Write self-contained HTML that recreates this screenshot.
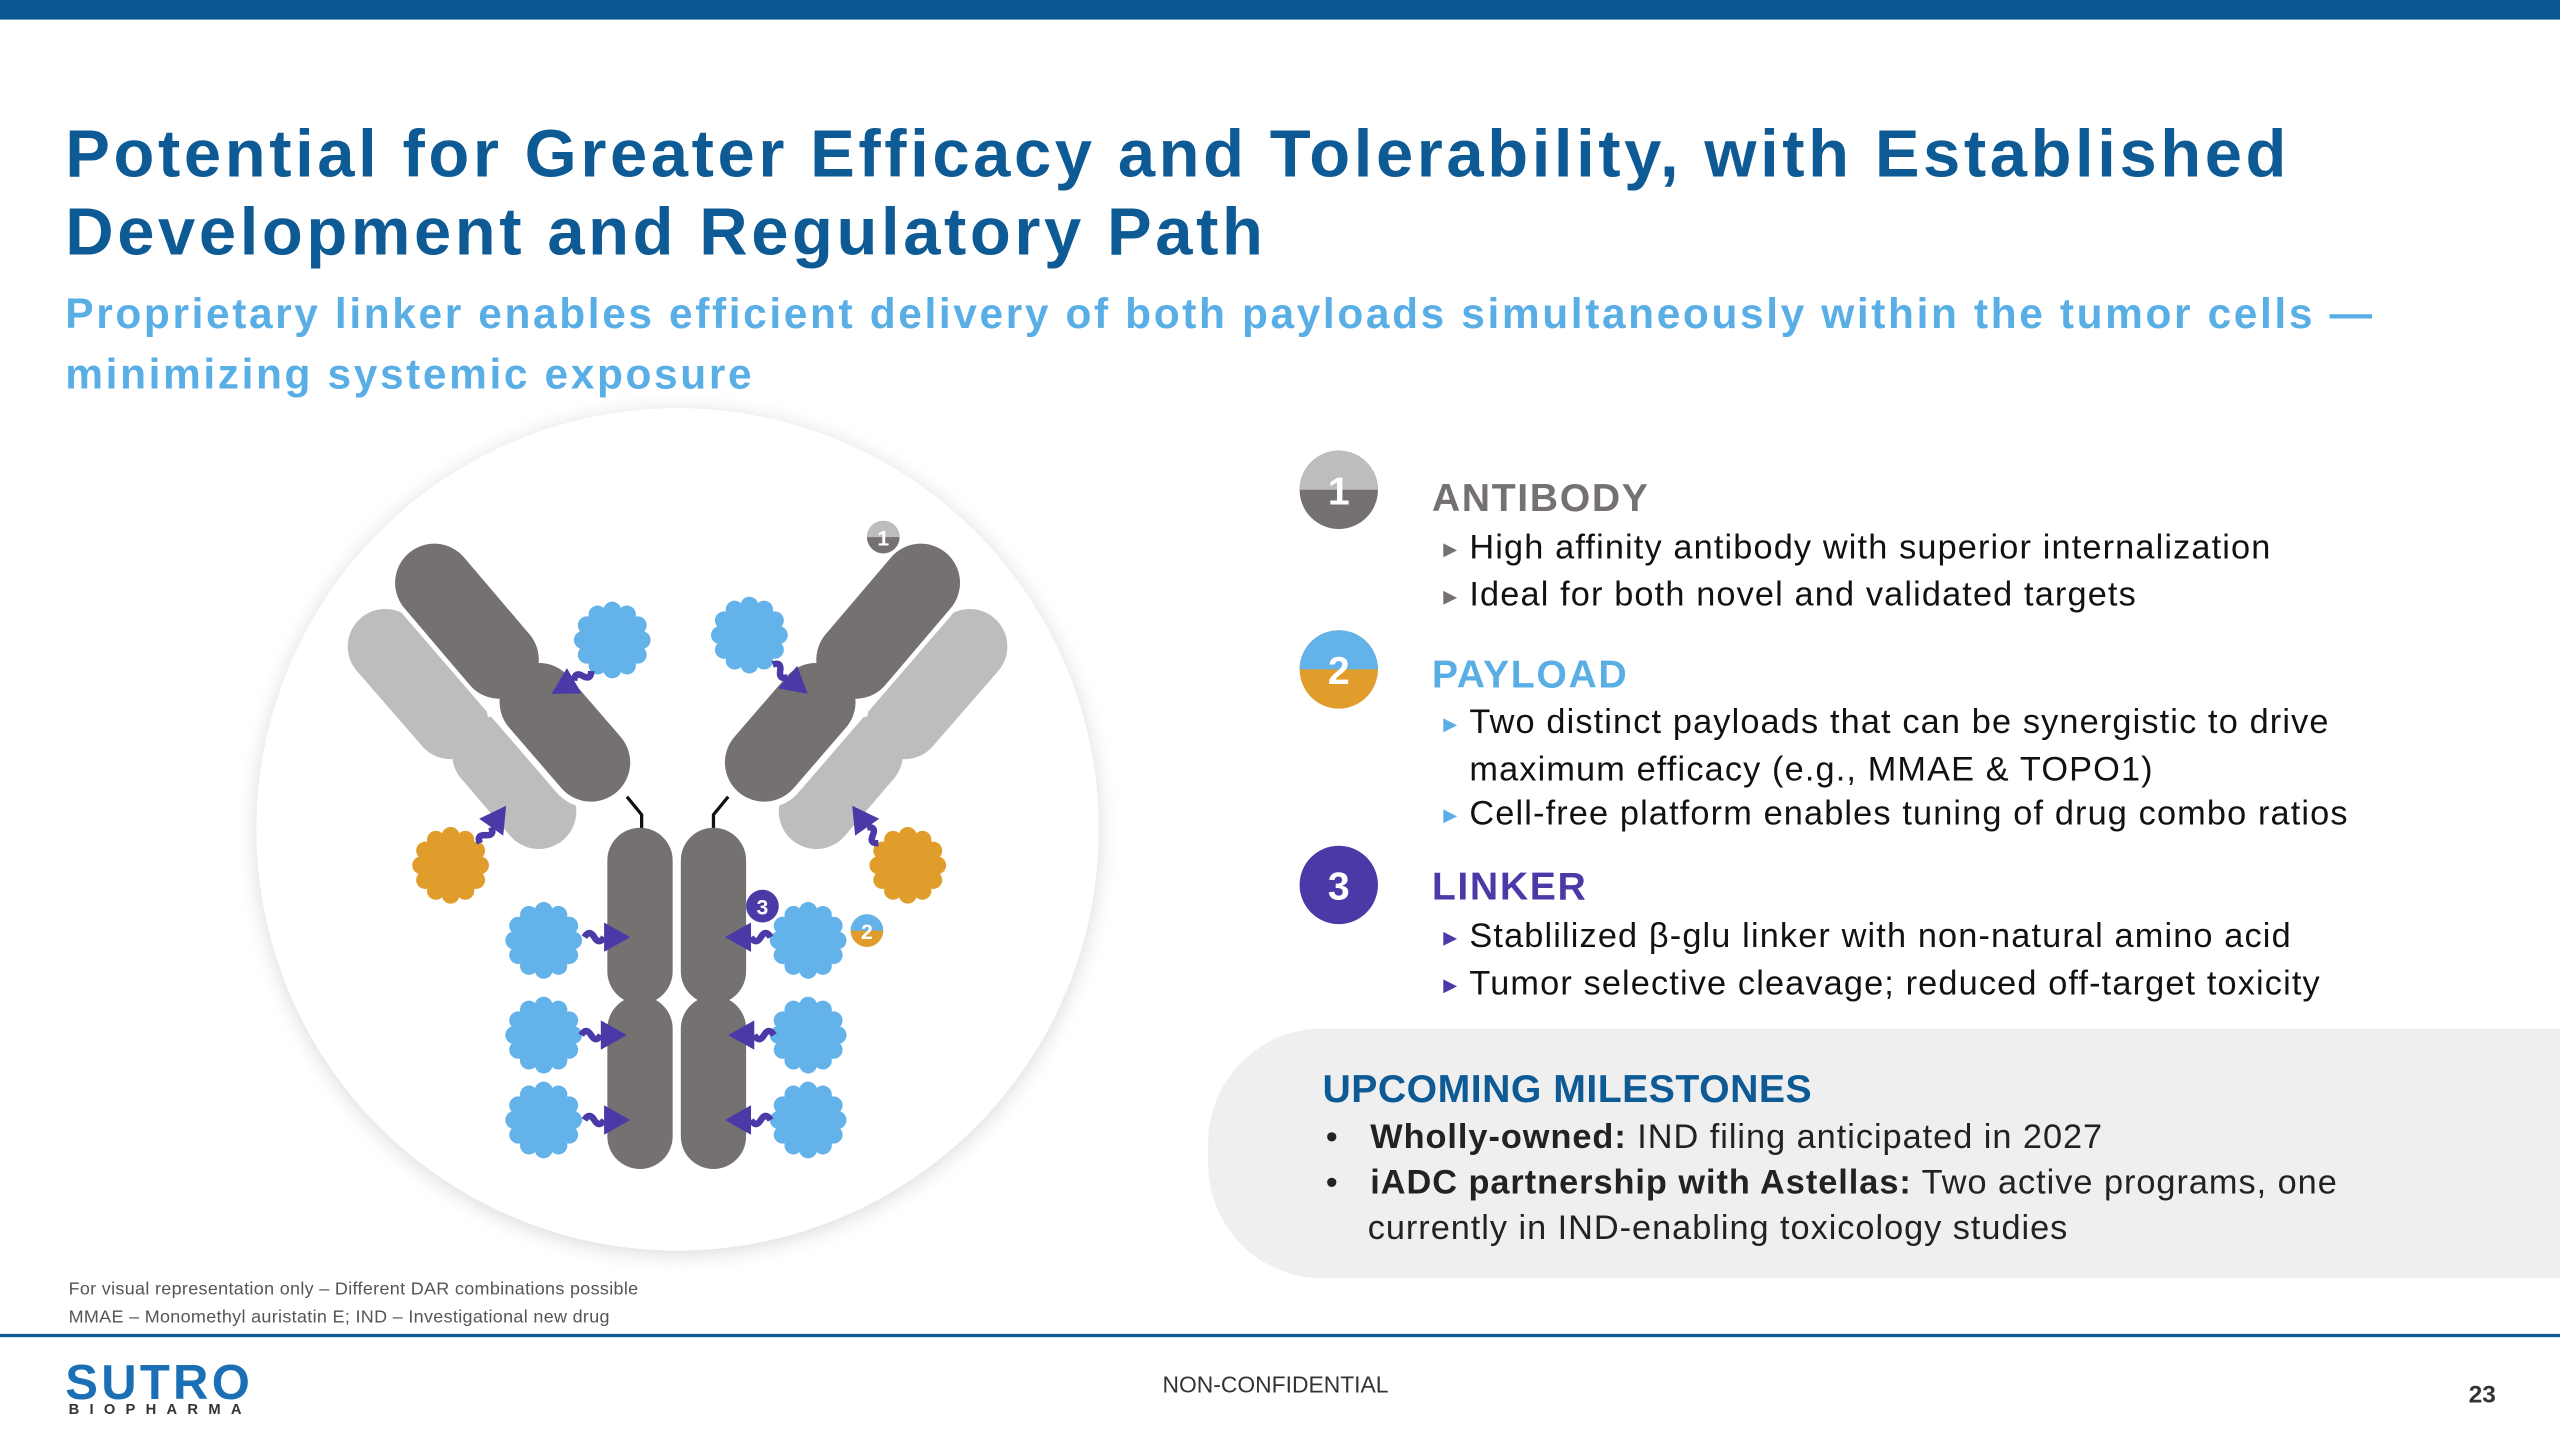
<!DOCTYPE html>
<html><head><meta charset="utf-8"><style>
html,body{margin:0;padding:0;background:#fff;}
#w{width:1568px;height:882px;position:relative;transform:scale(1.632653);transform-origin:0 0;font-family:"Liberation Sans",Arial,sans-serif;overflow:hidden;}
.a{position:absolute;white-space:nowrap;}
.t{color:#0d5a95;font-weight:bold;font-size:41px;line-height:48px;left:40px;top:70px;letter-spacing:2.2px;}
.s{color:#5aaee6;font-weight:bold;font-size:26px;line-height:37px;left:40px;top:174px;letter-spacing:1.6px;}
.h{font-size:24px;letter-spacing:1px;font-weight:bold;}
.b{font-size:21px;color:#111;line-height:27px;letter-spacing:0.7px;}
.b span{font-size:11px;display:inline-block;width:16px;vertical-align:2px;}
</style></head><body><div id="w">
<div style="position:absolute;left:0;top:0;width:1568px;height:12px;background:#0a5690"></div>
<div class="a t">Potential for Greater Efficacy and Tolerability, with Established<br>Development and Regulatory Path</div>
<div class="a s">Proprietary linker enables efficient delivery of both payloads simultaneously within the tumor cells —<br>minimizing systemic exposure</div>

<svg style="position:absolute;left:0;top:0" width="1568" height="882" viewBox="0 0 1568 882">
<defs>
<radialGradient id="sh" cx="0.5" cy="0.5" r="0.5"><stop offset="0.93" stop-color="#ddd"/><stop offset="1" stop-color="#fff" stop-opacity="0"/></radialGradient>
<g id="bl"><circle r="17"/><circle cx="0" cy="-18" r="5.5"/><circle cx="9" cy="-15.6" r="5.5"/><circle cx="15.6" cy="-9" r="5.5"/><circle cx="18" cy="0" r="5.5"/><circle cx="15.6" cy="9" r="5.5"/><circle cx="9" cy="15.6" r="5.5"/><circle cx="0" cy="18" r="5.5"/><circle cx="-9" cy="15.6" r="5.5"/><circle cx="-15.6" cy="9" r="5.5"/><circle cx="-18" cy="0" r="5.5"/><circle cx="-15.6" cy="-9" r="5.5"/><circle cx="-9" cy="-15.6" r="5.5"/></g>
<g id="ar"><path d="M-14,0 q3,-5 6,0 t6,0" stroke="#4a3aa8" stroke-width="4" fill="none"/><polygon points="-2,-9 14,0 -2,9" fill="#4a3aa8"/></g>
</defs>
<path d="M740,700 a70,70 0 0 1 70,-70 H1568 V783 H810 a70,70 0 0 1 -70,-70Z" fill="#efefef"/>
<circle cx="415" cy="510" r="272" fill="url(#sh)"/>
<circle cx="415" cy="508" r="258" fill="#fff"/>
<g stroke-linecap="round" fill="none" stroke="#bdbdbd" stroke-width="46">
<line x1="236" y1="396" x2="276" y2="442"/><line x1="300" y1="462" x2="330" y2="497"/>
<line x1="594" y1="396" x2="554" y2="442"/><line x1="530" y1="462" x2="500" y2="497"/>
</g>
<g stroke-linecap="round" fill="none">
<line x1="268" y1="358" x2="362" y2="467" stroke="#fff" stroke-width="56"/>
<line x1="562" y1="358" x2="468" y2="467" stroke="#fff" stroke-width="56"/>
</g>
<g stroke-linecap="round" fill="none" stroke="#757171" stroke-width="48">
<line x1="266" y1="357" x2="306" y2="404"/><line x1="330" y1="430" x2="362" y2="467"/>
<line x1="564" y1="357" x2="524" y2="404"/><line x1="500" y1="430" x2="468" y2="467"/>
</g>
<path d="M384,488 L393,499 V508 M446,488 L437,499 V508" stroke="#111" stroke-width="2" fill="none"/>
<g fill="#757171">
<rect x="372" y="507" width="40" height="108" rx="20"/><rect x="372" y="610" width="40" height="106" rx="20"/>
<rect x="417" y="507" width="40" height="108" rx="20"/><rect x="417" y="610" width="40" height="106" rx="20"/>
</g>
<g fill="#64b2ea"><use href="#bl" x="375" y="392"/><use href="#bl" x="459" y="389"/><use href="#bl" x="333" y="576"/><use href="#bl" x="333" y="634"/><use href="#bl" x="333" y="686"/><use href="#bl" x="495" y="576"/><use href="#bl" x="495" y="634"/><use href="#bl" x="495" y="686"/></g>
<g fill="#e19d2b"><use href="#bl" x="276" y="530"/><use href="#bl" x="556" y="530"/></g>
<use href="#ar" transform="translate(372,574)"/><use href="#ar" transform="translate(370,634)"/><use href="#ar" transform="translate(372,686)"/>
<use href="#ar" transform="translate(458,574) scale(-1,1)"/><use href="#ar" transform="translate(460,634) scale(-1,1)"/><use href="#ar" transform="translate(458,686) scale(-1,1)"/>
<use href="#ar" transform="translate(350,418) rotate(150)"/><use href="#ar" transform="translate(484,416) rotate(40)"/>
<use href="#ar" transform="translate(302,505) rotate(-55)"/><use href="#ar" transform="translate(530,505) rotate(-125)"/>
<circle cx="541" cy="329" r="10" fill="#757171"/><path d="M531,329 a10,10 0 0 1 20,0Z" fill="#bdbdbd"/><text x="541" y="334" font-size="13" font-weight="bold" fill="#fff" text-anchor="middle" font-family="Liberation Sans">1</text>
<circle cx="467" cy="555" r="10" fill="#4a3aa8"/><text x="467" y="560" font-size="13" font-weight="bold" fill="#fff" text-anchor="middle" font-family="Liberation Sans">3</text>
<circle cx="531" cy="570" r="10" fill="#e19d2b"/><path d="M521,570 a10,10 0 0 1 20,0Z" fill="#64b2ea"/><text x="531" y="575" font-size="13" font-weight="bold" fill="#fff" text-anchor="middle" font-family="Liberation Sans">2</text>
<circle cx="820" cy="300" r="24" fill="#757171"/><path d="M796,300 a24,24 0 0 1 48,0Z" fill="#bdbdbd"/><text x="820" y="309" font-size="24" font-weight="bold" fill="#fff" text-anchor="middle" font-family="Liberation Sans">1</text>
<circle cx="820" cy="410" r="24" fill="#e19d2b"/><path d="M796,410 a24,24 0 0 1 48,0Z" fill="#64b2ea"/><text x="820" y="419" font-size="24" font-weight="bold" fill="#fff" text-anchor="middle" font-family="Liberation Sans">2</text>
<circle cx="820" cy="542" r="24" fill="#4a3aa8"/><text x="820" y="551" font-size="24" font-weight="bold" fill="#fff" text-anchor="middle" font-family="Liberation Sans">3</text>
<line x1="0" y1="818" x2="1568" y2="818" stroke="#0d5a95" stroke-width="2"/>
</svg>

<div class="a h" style="left:877px;top:292px;color:#757171">ANTIBODY</div>
<div class="a b" style="left:884px;top:322px"><span style="color:#757171">▶</span>High affinity antibody with superior internalization<br><span style="color:#757171">▶</span>Ideal for both novel and validated targets</div>
<div class="a h" style="left:877px;top:400px;color:#5aaee6">PAYLOAD</div>
<div class="a b" style="left:884px;top:429px"><span style="color:#5aaee6">▶</span>Two distinct payloads that can be synergistic to drive<br><span></span>maximum efficacy (e.g., MMAE &amp; TOPO1)<br><span style="color:#5aaee6">▶</span>Cell-free platform enables tuning of drug combo ratios</div>
<div class="a h" style="left:877px;top:530px;color:#4a3aa8">LINKER</div>
<div class="a b" style="left:884px;top:560px"><span style="color:#4a3aa8">▶</span>Stablilized β-glu linker with non-natural amino acid<br><span style="color:#4a3aa8">▶</span>Tumor selective cleavage; reduced off-target toxicity</div>

<div class="a" style="left:810px;top:654px;font-size:24px;font-weight:bold;color:#0d5a95;letter-spacing:0.3px">UPCOMING MILESTONES</div>
<div class="a b" style="left:812px;top:683px;line-height:28px;color:#222;letter-spacing:0.6px">•&nbsp;&nbsp;&nbsp;<b>Wholly-owned:</b> IND filing anticipated in 2027<br>•&nbsp;&nbsp;&nbsp;<b>iADC partnership with Astellas:</b> Two active programs, one<br>&nbsp;&nbsp;&nbsp;&nbsp;currently in IND-enabling toxicology studies</div>

<div class="a" style="left:42px;top:782px;font-size:11px;line-height:17px;color:#555;letter-spacing:0.2px">For visual representation only – Different DAR combinations possible<br>MMAE – Monomethyl auristatin E; IND – Investigational new drug</div>
<div class="a" style="left:40px;top:834px;font-size:30px;font-weight:bold;color:#1a6fb5;line-height:28px;letter-spacing:2px">SUTRO</div>
<div class="a" style="left:42px;top:858px;font-size:9px;font-weight:bold;color:#333;letter-spacing:6.3px">BIOPHARMA</div>
<div class="a" style="left:712px;top:840px;font-size:14px;color:#333">NON-CONFIDENTIAL</div>
<div class="a" style="left:1512px;top:846px;font-size:15px;font-weight:bold;color:#333">23</div>
</div></body></html>
